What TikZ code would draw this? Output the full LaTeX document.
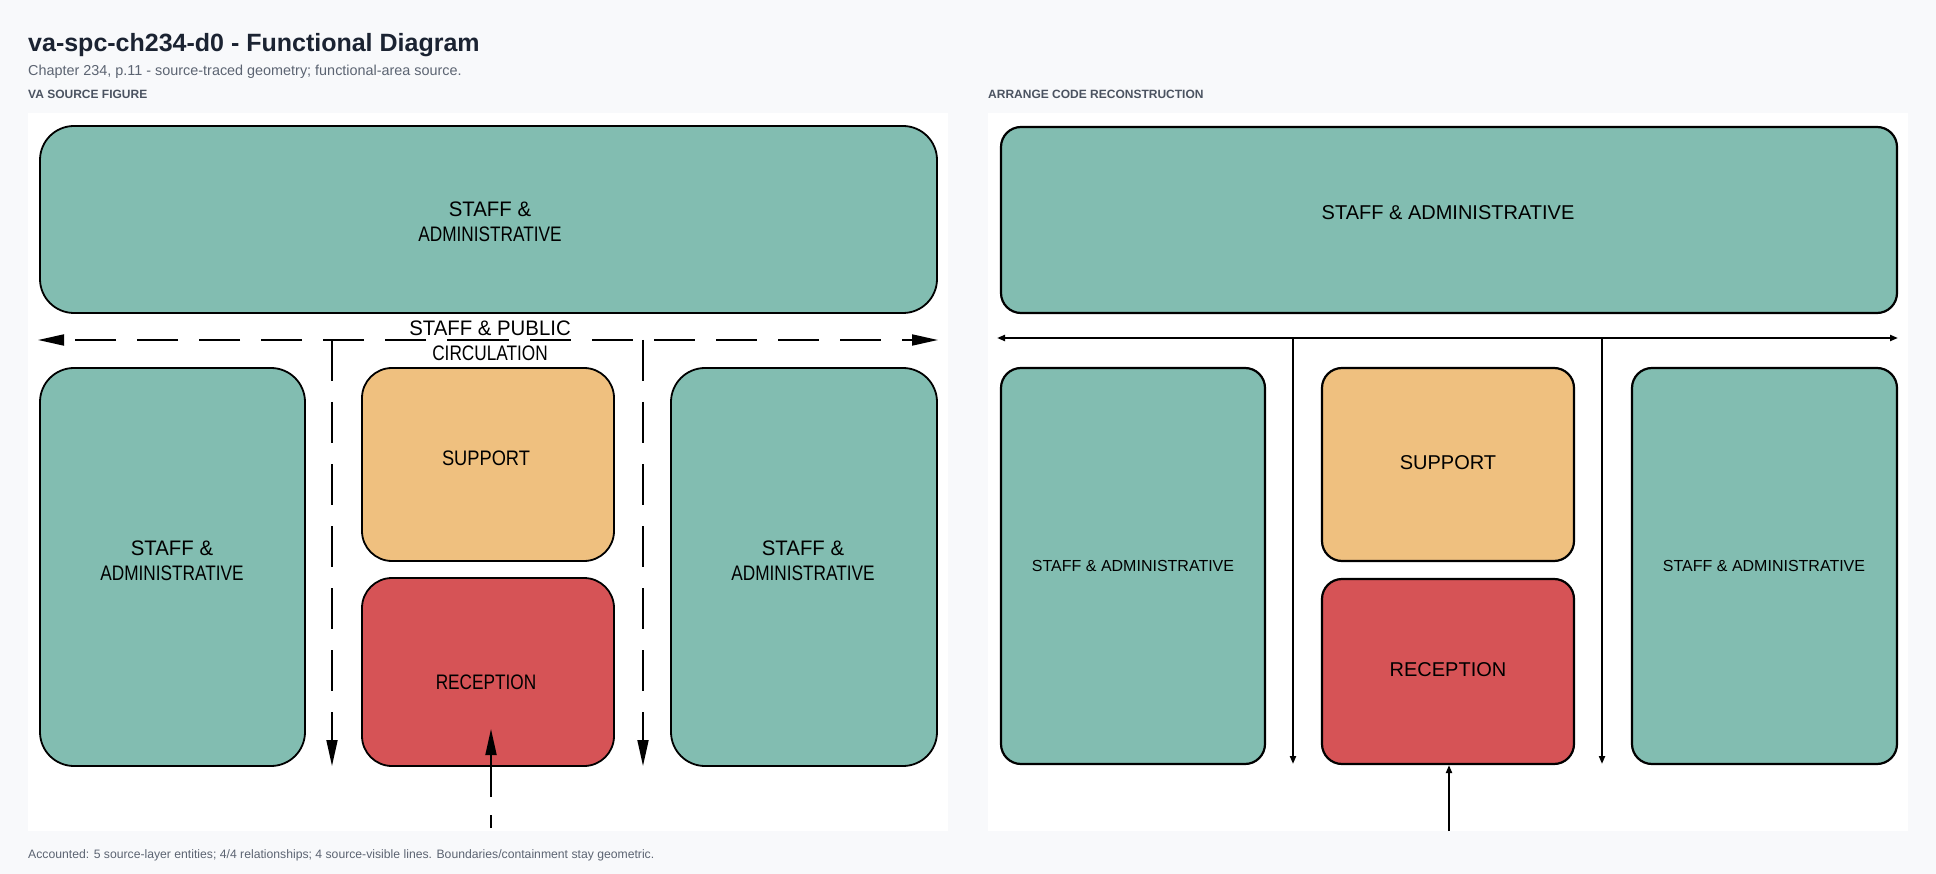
\documentclass[tikz,border=0pt]{standalone}
\usepackage{fontspec}
\setmainfont{Liberation Sans}
\newfontfamily\narrowf[FakeStretch=0.82]{Liberation Sans}
\newfontfamily\widef[FakeStretch=0.97]{Liberation Sans}
\newfontfamily\midf[FakeStretch=0.87]{Liberation Sans}
\usetikzlibrary{arrows.meta}
\definecolor{bgc}{HTML}{F8F9FB}
\definecolor{teal}{HTML}{82BDB1}
\definecolor{orng}{HTML}{EFC07F}
\definecolor{redc}{HTML}{D65356}
\definecolor{titlec}{HTML}{1B2332}
\definecolor{subc}{HTML}{5C6472}
\definecolor{labc}{HTML}{4B5361}
\tikzset{
  srcbox/.style={draw=black, line width=1.8pt, rounded corners=34pt, inner sep=0pt},
  srctext/.style={inner sep=0pt, align=center, font=\narrowf\fontsize{21}{25}\selectfont},
  recbox/.style={draw=black, line width=2.2pt, rounded corners=20pt, inner sep=0pt},
  rectext/.style={inner sep=0pt, align=center, font=\fontsize{20}{24}\selectfont},
  srcline/.style={line width=1.8pt, dash pattern=on 41pt off 21pt},
  bigtip/.style={-{Triangle[length=26pt,width=11pt]}},
  smalltip/.style={-{Triangle[length=8pt,width=6pt]}},
  recline/.style={line width=2.2pt},
}
\begin{document}
\begin{tikzpicture}[x=1pt,y=-1pt]
\fill[bgc] (0,0) rectangle (1936,874);
\useasboundingbox (0,0) rectangle (1936,874);
% headings
\node[anchor=base west, inner sep=0, text=titlec, font=\bfseries\fontsize{25}{30}\selectfont] (title) at (28,52) {va-spc-ch234-d0 - Functional Diagram};
\node[anchor=base west, inner sep=0, text=subc, font=\fontsize{14.4}{17}\selectfont] (sub) at (28,76) {Chapter 234, p.11 - source-traced geometry; functional-area source.};
\node[anchor=base west, inner sep=0, text=labc, font=\bfseries\fontsize{12}{14}\selectfont] (labl) at (28,99) {VA SOURCE FIGURE};
\node[anchor=base west, inner sep=0, text=labc, font=\bfseries\fontsize{12}{14}\selectfont] (labr) at (988,99) {ARRANGE CODE RECONSTRUCTION};
\node[anchor=base west, inner sep=0, text=subc, font=\fontsize{12.2}{14}\selectfont] (foot) at (28,858) {Accounted: 5 source-layer entities; 4/4 relationships; 4 source-visible lines. Boundaries/containment stay geometric.};
% panels
\fill[white] (28,113) rectangle (948,831);
\fill[white] (988,113) rectangle (1908,831);

% ---------- left: source figure ----------
\node[srcbox, fill=teal, minimum width=897pt, minimum height=187pt] (ltop) at (488.5,219.5) {};
\node[srctext] (ltopt) at (490,222) {{\widef STAFF \&}\\ADMINISTRATIVE};
\node[srcbox, fill=teal, minimum width=265pt, minimum height=398pt] (lleft) at (172.5,567) {};
\node[srctext] (llefft) at (172,561) {{\widef STAFF \&}\\ADMINISTRATIVE};
\node[srcbox, fill=orng, minimum width=252pt, minimum height=193pt, rounded corners=30pt] (lsup) at (488,464.5) {};
\node[srctext, font=\midf\fontsize{21}{25}\selectfont] (lsupt) at (486,458) {SUPPORT};
\node[srcbox, fill=redc, minimum width=252pt, minimum height=188pt, rounded corners=30pt] (lrec) at (488,672) {};
\node[srctext] (lrect) at (486,682) {RECEPTION};
\node[srcbox, fill=teal, minimum width=266pt, minimum height=398pt] (lright) at (804,567) {};
\node[srctext] (lrightt) at (803,561) {{\widef STAFF \&}\\ADMINISTRATIVE};
\coordinate (lcl) at (38,340);
\coordinate (lcr) at (938,340);
\coordinate (lcm) at (488,340);
\draw[srcline, bigtip] (lcm) -- (lcl);
\draw[srcline, bigtip, dash phase=20pt] (lcm) -- (lcr);
\node[srctext] (lcirc) at (490,341) {{\widef STAFF \& PUBLIC}\\CIRCULATION};
\coordinate (lv1a) at (332,340);
\coordinate (lv1b) at (332,766);
\coordinate (lv2a) at (643,340);
\coordinate (lv2b) at (643,766);
\draw[srcline, bigtip] (lv1a) -- (lv1b);
\draw[srcline, bigtip] (lv2a) -- (lv2b);
\coordinate (lin) at (491,831);
\coordinate (linend) at (491,729);
\draw[line width=1.8pt, dash pattern=on 0pt off 3pt on 13pt off 18pt on 120pt, bigtip] (lin) -- (linend);

% ---------- right: reconstruction ----------
\node[recbox, fill=teal, minimum width=896pt, minimum height=186pt] (rtop) at (1449,220) {};
\node[rectext] (rtopt) at (1448,213) {STAFF \& ADMINISTRATIVE};
\node[recbox, fill=teal, minimum width=264pt, minimum height=396pt] (rleft) at (1133,566) {};
\node[rectext, font=\fontsize{16}{19}\selectfont] (rleftt) at (1133,566) {STAFF \& ADMINISTRATIVE};
\node[recbox, fill=orng, minimum width=252pt, minimum height=193pt] (rsup) at (1448,464.5) {};
\node[rectext] (rsupt) at (1448,463) {SUPPORT};
\node[recbox, fill=redc, minimum width=252pt, minimum height=185pt] (rrec) at (1448,671.5) {};
\node[rectext] (rrect) at (1448,670) {RECEPTION};
\node[recbox, fill=teal, minimum width=265pt, minimum height=396pt] (rright) at (1764.5,566) {};
\node[rectext, font=\fontsize{16}{19}\selectfont] (rrightt) at (1764,566) {STAFF \& ADMINISTRATIVE};
\coordinate (rcl) at (997,338);
\coordinate (rcr) at (1898,338);
\coordinate (rcm) at (1448,338);
\draw[recline, smalltip] (rcm) -- (rcl);
\draw[recline, smalltip] (rcm) -- (rcr);
\coordinate (rv1a) at (1293,338);
\coordinate (rv1b) at (1293,764);
\coordinate (rv2a) at (1602,338);
\coordinate (rv2b) at (1602,764);
\draw[recline, smalltip] (rv1a) -- (rv1b);
\draw[recline, smalltip] (rv2a) -- (rv2b);
\coordinate (rin) at (1449,831);
\draw[recline, smalltip] (rin) -- (rin |- rrec.south);
\end{tikzpicture}
\end{document}
